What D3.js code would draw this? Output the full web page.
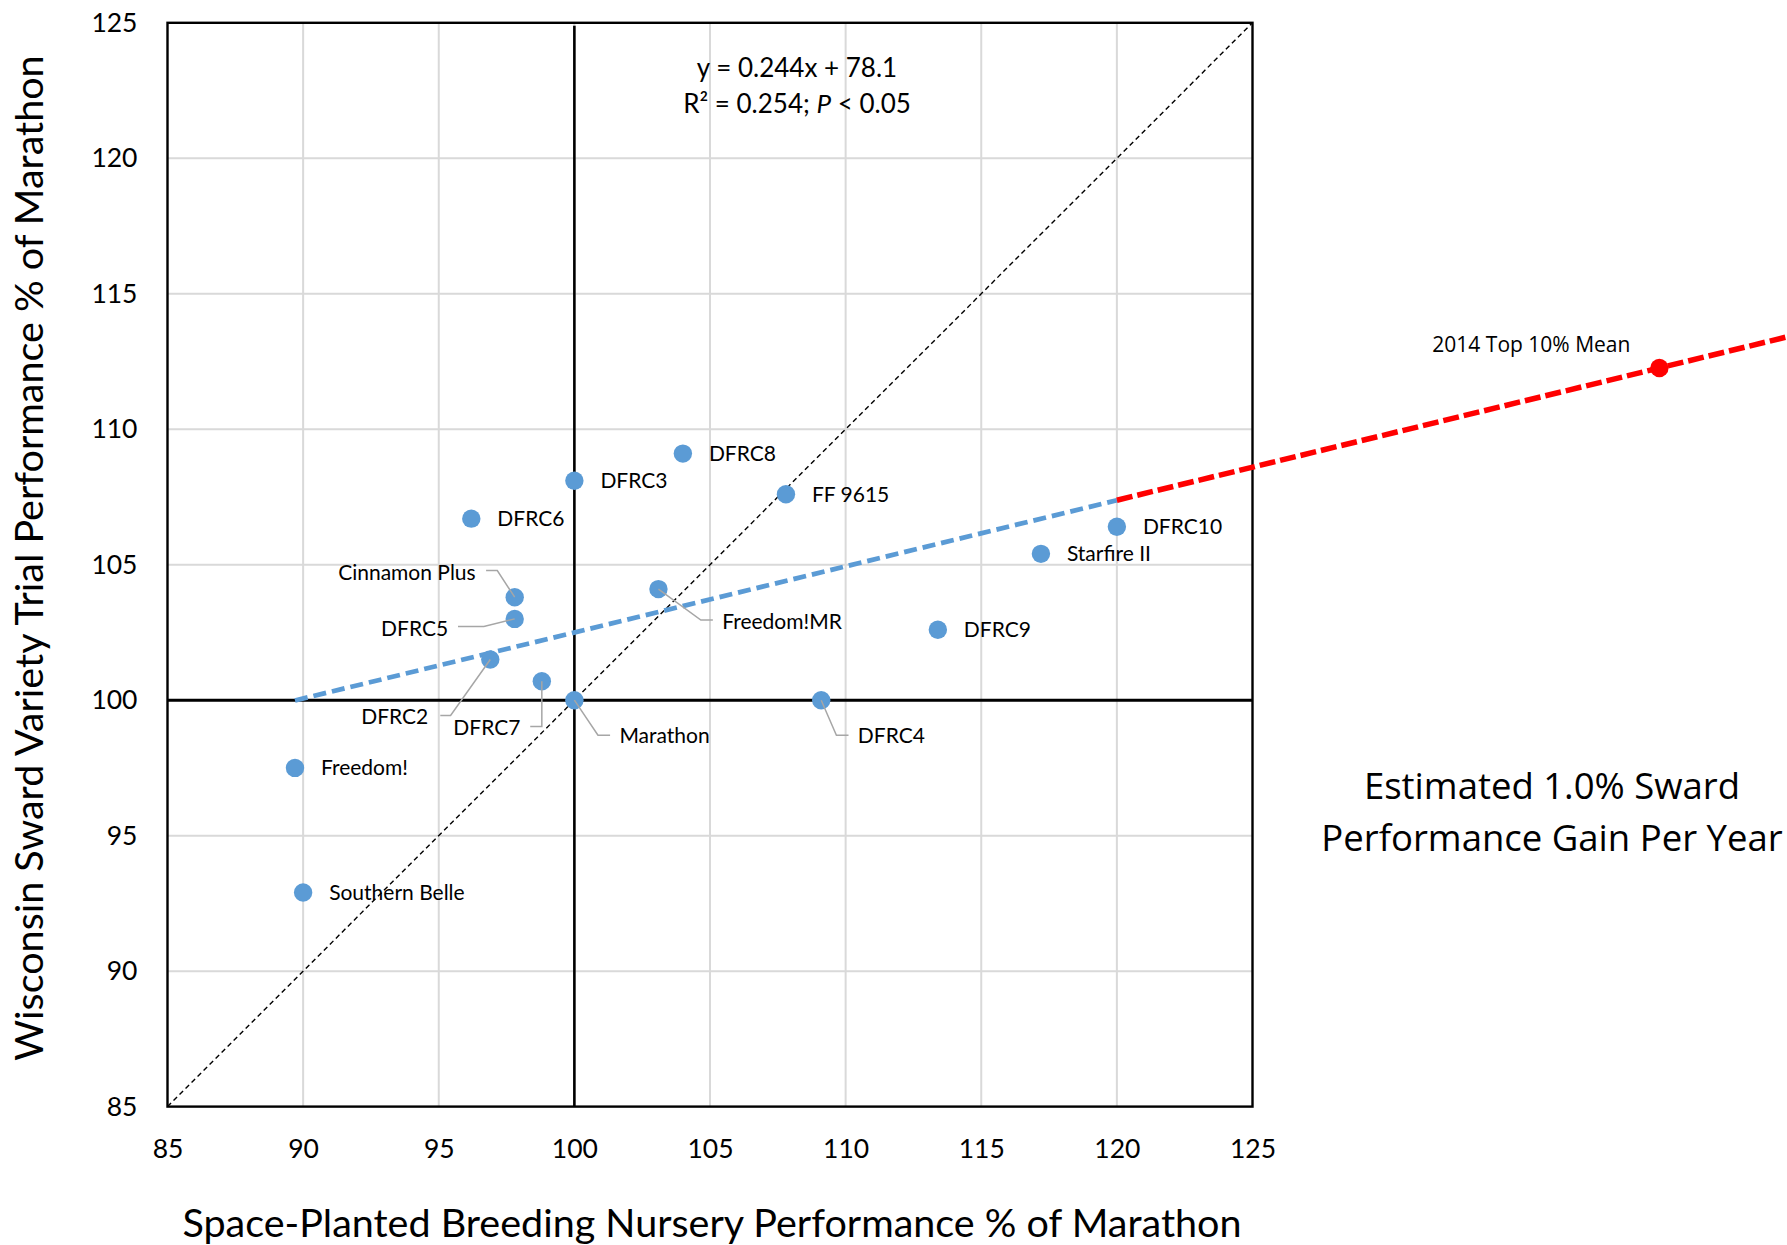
<!DOCTYPE html>
<html>
<head>
<meta charset="utf-8">
<script src="https://cdn.jsdelivr.net/npm/d3@7"></script>
<style>
  html, body { margin: 0; padding: 0; background: #fff; }
  svg { display: block; }
  text { font-family: Lato, "Open Sans", sans-serif; fill: #000; }
</style>
</head>
<body>
<svg id="chart" width="1787" height="1245"></svg>
<script>
// Varieties and their relative performance (% of Marathon)
const varieties = ["Marathon", "Freedom!", "Southern Belle", "Cinnamon Plus", "DFRC5", "DFRC2",
  "DFRC7", "DFRC6", "DFRC3", "DFRC8", "FF 9615", "Freedom!MR", "DFRC4", "DFRC9", "Starfire II", "DFRC10"];
const nurseryPct = [100.0, 89.7, 90.0, 97.8, 97.8, 96.9, 98.8, 96.2, 100.0, 104.0, 107.8, 103.1, 109.1, 113.4, 117.2, 120.0];
const swardPct   = [100.0, 97.5, 92.9, 103.8, 103.0, 101.5, 100.7, 106.7, 108.1, 109.1, 107.6, 104.1, 100.0, 102.6, 105.4, 106.4];

const xTicks = [85, 90, 95, 100, 105, 110, 115, 120, 125];
const yTicks = [85, 90, 95, 100, 105, 110, 115, 120, 125];

// Linear fit reported on the chart: y = 0.244x + 78.1
const trendSlope = 0.244;
const trendIntercept = 78.1;
const trendRange = [89.7, 120];        // fitted over the observed nursery range
const projectionStart = 120;           // extrapolated beyond the data
const targetX = 140;                   // 2014 Top 10% Mean
const targetLabel = "2014 Top 10% Mean";

// ---- layout ----
const plot = { left: 167.5, right: 1252.5, top: 22.8, bottom: 1106.6 };
const W = 1787, H = 1245;

const x = d3.scaleLinear().domain([85, 125]).range([plot.left, plot.right]);
const y = d3.scaleLinear().domain([85, 125]).range([plot.bottom, plot.top]);
const fit = v => trendSlope * v + trendIntercept;

const svg = d3.select("#chart");

// gridlines
const grid = svg.append("g").attr("stroke", "#d9d9d9").attr("stroke-width", 2);
grid.selectAll("line.vx").data(xTicks.slice(1, -1)).join("line")
  .attr("x1", d => x(d)).attr("x2", d => x(d)).attr("y1", plot.top).attr("y2", plot.bottom);
grid.selectAll("line.hy").data(yTicks.slice(1, -1)).join("line")
  .attr("y1", d => y(d)).attr("y2", d => y(d)).attr("x1", plot.left).attr("x2", plot.right);

// axes (tick labels only)
const xAxis = svg.append("g").attr("transform", `translate(0,${plot.bottom})`)
  .call(d3.axisBottom(x).tickValues(xTicks).tickSize(0).tickPadding(33));
const yAxis = svg.append("g").attr("transform", `translate(${plot.left},0)`)
  .call(d3.axisLeft(y).tickValues(yTicks).tickSize(0).tickPadding(30));
[xAxis, yAxis].forEach(a => {
  a.select(".domain").remove();
  a.selectAll("text").style("font-family", "Lato").style("font-size", "26.5px").attr("fill", "#000");
});

// 1:1 reference line
svg.append("line")
  .attr("x1", x(85)).attr("y1", y(85)).attr("x2", x(125)).attr("y2", y(125))
  .attr("stroke", "#000").attr("stroke-width", 1.4).attr("stroke-dasharray", "5,3.5");

// Marathon reference lines at 100
svg.append("line")
  .attr("x1", x(100)).attr("x2", x(100)).attr("y1", plot.top + 3).attr("y2", plot.bottom)
  .attr("stroke", "#000").attr("stroke-width", 2.6);
svg.append("line")
  .attr("x1", plot.left).attr("x2", plot.right).attr("y1", y(100)).attr("y2", y(100))
  .attr("stroke", "#000").attr("stroke-width", 3);

// plot border
svg.append("rect")
  .attr("x", plot.left).attr("y", plot.top)
  .attr("width", plot.right - plot.left).attr("height", plot.bottom - plot.top)
  .attr("fill", "none").attr("stroke", "#000").attr("stroke-width", 2.4);

// fitted trend (blue) and its projection (red)
const projectionEnd = x.invert(W + 5);
svg.append("line")
  .attr("x1", x(trendRange[0])).attr("y1", y(fit(trendRange[0])))
  .attr("x2", x(trendRange[1])).attr("y2", y(fit(trendRange[1])))
  .attr("stroke", "#5b9bd5").attr("stroke-width", 4.8).attr("stroke-dasharray", "13,6");
svg.append("line")
  .attr("x1", x(projectionStart)).attr("y1", y(fit(projectionStart)))
  .attr("x2", x(projectionEnd)).attr("y2", y(fit(projectionEnd)))
  .attr("stroke", "#ff0000").attr("stroke-width", 5.5).attr("stroke-dasharray", "16,5");

// variety points
const points = varieties.map((name, i) => ({ name, nx: nurseryPct[i], sy: swardPct[i] }));
svg.append("g").selectAll("circle").data(points).join("circle")
  .attr("cx", d => x(d.nx)).attr("cy", d => y(d.sy)).attr("r", 9.2)
  .attr("fill", "#5b9bd5");

// label placement: offsets in px from each point, leader polylines for moved labels
const labelLayout = {
  "Cinnamon Plus": { dx: -39, dy: -25, anchor: "end", leader: [[-28.6, -26.6], [-17.4, -26.6], [0, 0]] },
  "DFRC5":        { dx: -66.5, dy: 9.3, anchor: "end", leader: [[-56.7, 7.7], [-30.8, 7.7], [0, 0]] },
  "DFRC2":        { dx: -62, dy: 57, anchor: "end", leader: [[-50, 56], [-39.7, 56], [0, 0]] },
  "DFRC7":        { dx: -21.4, dy: 46, anchor: "end", leader: [[-11.6, 45.4], [0, 45.4], [0, 0]] },
  "Marathon":     { dx: 45, dy: 35.7, anchor: "start", leader: [[0, 0], [23.6, 35], [35.7, 35]] },
  "DFRC4":        { dx: 36.6, dy: 35.7, anchor: "start", leader: [[0, 0], [15.2, 35], [27.3, 35]] },
  "Freedom!MR":   { dx: 63.8, dy: 32, anchor: "start", leader: [[0, 0], [42.4, 31], [54.4, 31]] }
};
const place = d => labelLayout[d.name] || { dx: 26, dy: 0, anchor: "start" };

svg.append("g").selectAll("polyline").data(points.filter(d => place(d).leader)).join("polyline")
  .attr("points", d => place(d).leader.map(p => [x(d.nx) + p[0], y(d.sy) + p[1]].join(",")).join(" "))
  .attr("fill", "none").attr("stroke", "#a6a6a6").attr("stroke-width", 1.5);

svg.append("g").selectAll("text").data(points).join("text")
  .attr("x", d => x(d.nx) + place(d).dx)
  .attr("y", d => y(d.sy) + place(d).dy)
  .attr("dy", "0.36em")
  .attr("text-anchor", d => place(d).anchor)
  .style("font-size", "21px")
  .text(d => d.name);

// projected target point
svg.append("circle")
  .attr("cx", x(targetX)).attr("cy", y(fit(targetX))).attr("r", 9.2).attr("fill", "#ff0000");
svg.append("text")
  .attr("x", x(targetX) - 128).attr("y", y(fit(targetX)) - 16)
  .attr("text-anchor", "middle")
  .style("font-family", "'Open Sans'").style("font-size", "21px")
  .text(targetLabel);

// regression annotation
const eqX = 797;
const eq = svg.append("text").attr("text-anchor", "middle").style("font-size", "26px");
eq.append("tspan").attr("x", eqX).attr("y", 77)
  .text(`y = ${trendSlope}x + ${trendIntercept}`);
const r2 = eq.append("tspan").attr("x", eqX).attr("y", 113);
r2.append("tspan").text("R² = 0.254; ");
r2.append("tspan").style("font-style", "italic").text("P");
r2.append("tspan").text(" < 0.05");

// side note
const note = svg.append("text").attr("text-anchor", "middle")
  .style("font-family", "'Open Sans'").style("font-size", "36.5px");
note.append("tspan").attr("x", 1552).attr("y", 799).text("Estimated 1.0% Sward");
note.append("tspan").attr("x", 1552).attr("y", 851).text("Performance Gain Per Year");

// axis titles
svg.append("text")
  .attr("x", (plot.left + plot.right) / 2 + 2).attr("y", 1237)
  .attr("text-anchor", "middle").style("font-size", "39.5px")
  .text("Space-Planted Breeding Nursery Performance % of Marathon");
svg.append("text")
  .attr("transform", `translate(43,${558}) rotate(-90)`)
  .attr("text-anchor", "middle").style("font-size", "39.5px")
  .text("Wisconsin Sward Variety Trial Performance % of Marathon");
</script>
</body>
</html>
